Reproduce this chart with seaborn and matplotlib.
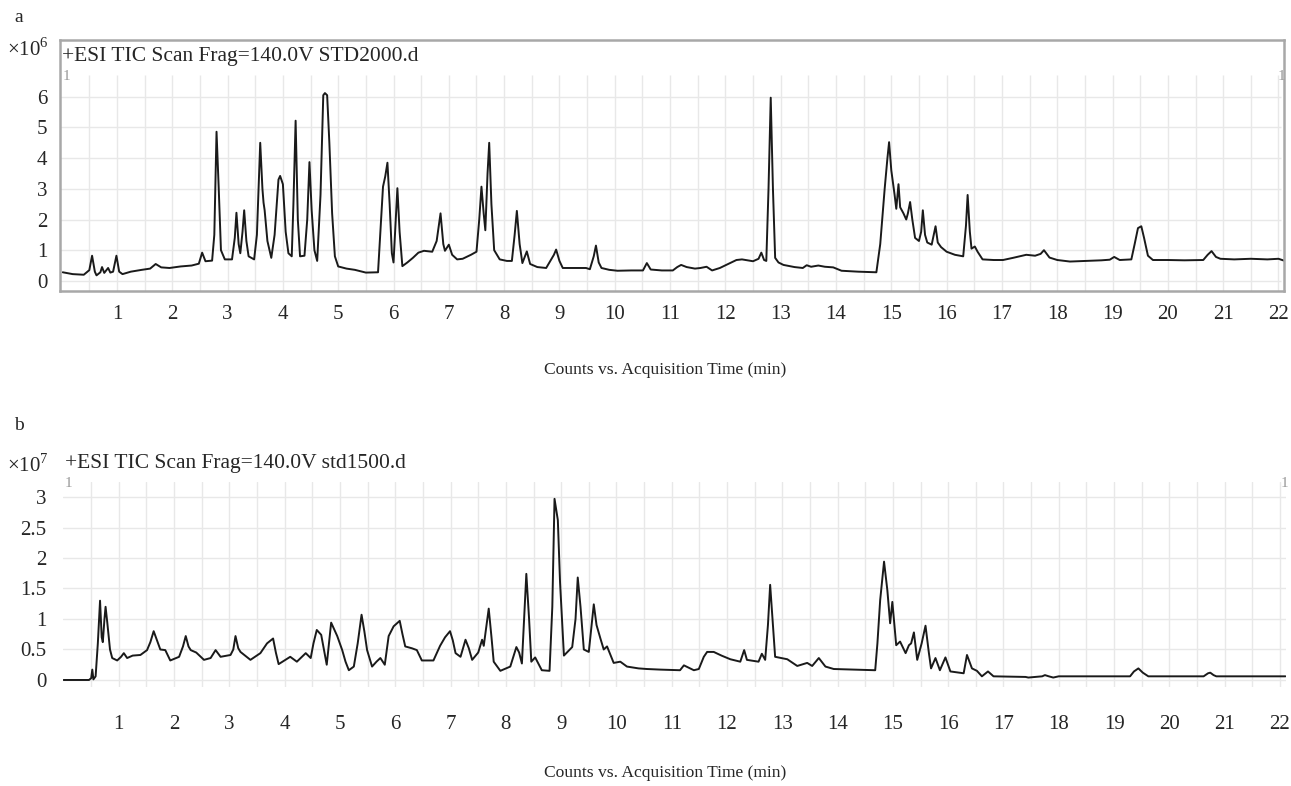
import numpy as np
import matplotlib
matplotlib.use("Agg")
import matplotlib.pyplot as plt
import seaborn as sns
import pandas as pd

# --- panel a: STD2000.d  (time in min, counts x10^6)
time_a = [0.02, 0.20, 0.40, 0.50, 0.55, 0.60, 0.63, 0.70, 0.73, 0.77, 0.84, 0.88, 0.93, 0.99, 1.04,
          1.10, 1.25, 1.45, 1.60, 1.70, 1.80, 1.95, 2.15, 2.35, 2.48, 2.54, 2.60, 2.72, 2.76, 2.80,
          2.84, 2.88, 2.95, 3.08, 3.13, 3.16, 3.20, 3.23, 3.27, 3.30, 3.34, 3.38, 3.48, 3.53, 3.59,
          3.63, 3.65, 3.67, 3.72, 3.79, 3.85, 3.92, 3.95, 4.00, 4.05, 4.10, 4.16, 4.19, 4.23, 4.27,
          4.31, 4.39, 4.44, 4.48, 4.52, 4.57, 4.62, 4.68, 4.73, 4.76, 4.80, 4.84, 4.89, 4.94, 5.00,
          5.15, 5.30, 5.50, 5.72, 5.77, 5.81, 5.85, 5.89, 5.93, 5.97, 6.00, 6.04, 6.07, 6.11, 6.16,
          6.25, 6.35, 6.45, 6.55, 6.70, 6.78, 6.85, 6.90, 6.93, 7.00, 7.06, 7.15, 7.25, 7.40, 7.50,
          7.55, 7.59, 7.63, 7.66, 7.70, 7.73, 7.77, 7.82, 7.92, 8.05, 8.14, 8.19, 8.23, 8.28, 8.33,
          8.41, 8.47, 8.60, 8.76, 8.90, 8.94, 9.00, 9.06, 9.25, 9.48, 9.55, 9.62, 9.66, 9.71, 9.76,
          9.90, 10.05, 10.30, 10.51, 10.58, 10.65, 10.85, 11.05, 11.13, 11.20, 11.30, 11.45, 11.55,
          11.66, 11.76, 11.90, 12.05, 12.20, 12.30, 12.50, 12.60, 12.65, 12.70, 12.74, 12.78, 12.82,
          12.86, 12.90, 12.96, 13.05, 13.25, 13.40, 13.47, 13.55, 13.68, 13.80, 13.95, 14.10, 14.40,
          14.73, 14.80, 14.88, 14.93, 14.96, 15.00, 15.03, 15.06, 15.09, 15.13, 15.16, 15.22, 15.27,
          15.30, 15.34, 15.38, 15.43, 15.50, 15.54, 15.57, 15.61, 15.65, 15.73, 15.80, 15.84, 15.90,
          16.00, 16.15, 16.30, 16.35, 16.38, 16.42, 16.45, 16.51, 16.56, 16.65, 16.85, 17.02, 17.20,
          17.44, 17.60, 17.70, 17.76, 17.86, 18.00, 18.23, 18.50, 18.80, 18.95, 19.03, 19.13, 19.34,
          19.40, 19.46, 19.52, 19.57, 19.64, 19.73, 20.00, 20.30, 20.64, 20.72, 20.79, 20.87, 20.95,
          21.20, 21.50, 21.80, 22.00, 22.10]
counts_a = [0.28, 0.22, 0.20, 0.35, 0.82, 0.30, 0.18, 0.28, 0.45, 0.26, 0.42, 0.27, 0.30, 0.82, 0.30,
            0.22, 0.30, 0.36, 0.40, 0.55, 0.44, 0.42, 0.47, 0.50, 0.56, 0.92, 0.64, 0.66, 1.50, 4.86,
            3.00, 1.00, 0.70, 0.70, 1.40, 2.22, 1.20, 0.90, 1.60, 2.30, 1.30, 0.80, 0.70, 1.50, 4.50,
            3.00, 2.55, 2.30, 1.30, 0.75, 1.50, 3.30, 3.42, 3.15, 1.60, 0.90, 0.80, 2.50, 5.22, 2.00,
            0.80, 0.82, 2.00, 3.87, 2.30, 1.00, 0.65, 2.80, 6.05, 6.12, 6.05, 4.50, 2.20, 0.80, 0.47,
            0.40, 0.36, 0.27, 0.28, 1.80, 3.07, 3.40, 3.85, 2.50, 0.90, 0.60, 2.00, 3.02, 1.60, 0.48,
            0.60, 0.75, 0.92, 0.98, 0.95, 1.30, 2.20, 1.20, 0.98, 1.18, 0.85, 0.70, 0.72, 0.85, 0.95,
            2.00, 3.07, 2.20, 1.65, 3.50, 4.50, 2.50, 1.00, 0.70, 0.65, 0.65, 1.50, 2.28, 1.20, 0.58,
            0.96, 0.55, 0.45, 0.42, 0.85, 1.02, 0.65, 0.42, 0.42, 0.42, 0.38, 0.80, 1.15, 0.60, 0.42,
            0.36, 0.33, 0.34, 0.34, 0.58, 0.37, 0.34, 0.34, 0.45, 0.52, 0.45, 0.40, 0.42,
            0.46, 0.34, 0.42, 0.55, 0.68, 0.70, 0.64, 0.72, 0.92, 0.68, 0.65, 3.00, 5.97,
            3.00, 0.75, 0.60, 0.52, 0.45, 0.42, 0.51, 0.46, 0.50, 0.46, 0.44, 0.33, 0.30,
            0.28, 1.20, 3.00, 4.00, 4.52, 3.60, 3.20, 2.80, 2.35, 3.15, 2.40, 2.20, 2.00,
            2.20, 2.57, 2.00, 1.40, 1.30, 1.60, 2.30, 1.50, 1.25, 1.18, 1.78, 1.25, 1.10,
            0.95, 0.85, 0.80, 1.80, 2.80, 1.60, 1.05, 1.12, 0.95, 0.70, 0.68, 0.68, 0.75,
            0.85, 0.82, 0.88, 1.00, 0.76, 0.68, 0.63, 0.65, 0.67, 0.69, 0.78, 0.68, 0.70,
            1.20, 1.72, 1.78, 1.40, 0.82, 0.68, 0.68, 0.67, 0.68, 0.85, 0.97, 0.78, 0.72,
            0.70, 0.72, 0.70, 0.72, 0.66]

# --- panel b: std1500.d  (time in min, counts x10^7)
time_b = [0.00, 0.46, 0.50, 0.52, 0.54, 0.58, 0.62, 0.66, 0.69, 0.71, 0.74, 0.76, 0.79, 0.84, 0.88,
          0.97, 1.04, 1.09, 1.15, 1.25, 1.39, 1.51, 1.57, 1.63, 1.69, 1.75, 1.84, 1.93, 2.09, 2.16,
          2.21, 2.26, 2.30, 2.40, 2.54, 2.66, 2.75, 2.84, 3.02, 3.07, 3.11, 3.16, 3.20, 3.38, 3.56,
          3.68, 3.79, 3.84, 3.89, 4.10, 4.22, 4.38, 4.47, 4.52, 4.58, 4.66, 4.72, 4.76, 4.80, 4.84,
          4.95, 5.04, 5.10, 5.16, 5.25, 5.32, 5.39, 5.44, 5.49, 5.58, 5.66, 5.73, 5.81, 5.88, 5.97,
          6.08, 6.13, 6.18, 6.30, 6.39, 6.48, 6.69, 6.81, 6.90, 6.99, 7.04, 7.09, 7.18, 7.27, 7.33,
          7.39, 7.50, 7.57, 7.60, 7.65, 7.69, 7.74, 7.78, 7.90, 8.08, 8.19, 8.24, 8.29, 8.33, 8.37,
          8.42, 8.46, 8.53, 8.65, 8.79, 8.84, 8.88, 8.94, 8.98, 9.05, 9.20, 9.26, 9.30, 9.35, 9.41,
          9.50, 9.55, 9.59, 9.64, 9.71, 9.77, 9.83, 9.95, 10.07, 10.19, 10.40, 10.55, 10.80, 11.15,
          11.22, 11.40, 11.49, 11.58, 11.64, 11.76, 11.90, 12.06, 12.24, 12.31, 12.36, 12.57, 12.63,
          12.69, 12.74, 12.78, 12.83, 12.87, 13.09, 13.27, 13.45, 13.54, 13.66, 13.78, 13.93, 14.30,
          14.68, 14.72, 14.77, 14.84, 14.90, 14.95, 14.99, 15.06, 15.13, 15.23, 15.29, 15.33, 15.38,
          15.44, 15.52, 15.59, 15.65, 15.69, 15.77, 15.85, 15.95, 16.04, 16.28, 16.34, 16.43, 16.52,
          16.61, 16.72, 16.82, 17.40, 17.45, 17.70, 17.75, 17.82, 17.90, 18.00, 19.29, 19.36, 19.44,
          19.52, 19.62, 20.10, 20.62, 20.70, 20.74, 20.80, 20.85, 22.10]
counts_b = [0.00, 0.00, 0.03, 0.17, 0.01, 0.06, 0.60, 1.30, 0.70, 0.62, 1.00, 1.20, 0.95, 0.50, 0.36,
            0.32, 0.38, 0.44, 0.36, 0.40, 0.41, 0.49, 0.62, 0.80, 0.65, 0.50, 0.49, 0.32, 0.38, 0.55,
            0.72, 0.55, 0.49, 0.45, 0.33, 0.36, 0.49, 0.38, 0.41, 0.50, 0.72, 0.52, 0.46, 0.33, 0.44,
            0.60, 0.68, 0.45, 0.26, 0.38, 0.30, 0.44, 0.36, 0.60, 0.82, 0.74, 0.45, 0.25, 0.60, 0.94,
            0.72, 0.49, 0.30, 0.16, 0.22, 0.60, 1.07, 0.80, 0.49, 0.22, 0.30, 0.36, 0.25, 0.72, 0.88,
            0.97, 0.75, 0.55, 0.52, 0.49, 0.32, 0.32, 0.56, 0.70, 0.80, 0.65, 0.44, 0.38, 0.66, 0.52,
            0.33, 0.45, 0.66, 0.56, 0.90, 1.17, 0.70, 0.30, 0.15, 0.22, 0.54, 0.45, 0.27, 1.00, 1.74,
            1.00, 0.30, 0.37, 0.16, 0.15, 1.20, 2.97, 2.62, 1.60, 0.40, 0.54, 1.00, 1.68, 1.20, 0.50,
            0.46, 0.90, 1.24, 0.90, 0.68, 0.50, 0.55, 0.28, 0.30, 0.22, 0.19, 0.18, 0.17, 0.16,
            0.24, 0.16, 0.18, 0.38, 0.46, 0.46, 0.40, 0.34, 0.30, 0.49, 0.33, 0.30, 0.43,
            0.33, 0.90, 1.56, 0.90, 0.38, 0.34, 0.23, 0.28, 0.23, 0.36, 0.22, 0.18, 0.17,
            0.16, 0.60, 1.31, 1.94, 1.47, 0.93, 1.28, 0.57, 0.63, 0.44, 0.57, 0.60, 0.78,
            0.33, 0.60, 0.89, 0.45, 0.19, 0.36, 0.16, 0.37, 0.14, 0.11, 0.41, 0.19, 0.15,
            0.06, 0.14, 0.06, 0.05, 0.04, 0.06, 0.08, 0.06, 0.04, 0.06, 0.06, 0.14, 0.19,
            0.12, 0.06, 0.06, 0.06, 0.11, 0.12, 0.08, 0.06, 0.06]

minutes = list(range(1, 23))
ticks_a = [0, 1, 2, 3, 4, 5, 6]
ticks_b = [0, 0.5, 1, 1.5, 2, 2.5, 3]
tick_labels_b = ["0", "0.5", "1", "1.5", "2", "2.5", "3"]

sns.set_theme(style="white")
plt.rcParams["font.family"] = ["Liberation Serif", "DejaVu Serif"]
plt.rcParams["mathtext.fontset"] = "custom"
plt.rcParams["mathtext.rm"] = "Liberation Serif"

W, H = 1291, 786
fig = plt.figure(figsize=(W / 100, H / 100), dpi=100)


def px_axes(x0, y0, x1, y1):
    return fig.add_axes([x0 / W, 1 - y1 / H, (x1 - x0) / W, (y1 - y0) / H])


grid_col = "#e8e8e8"
line_col = "#1a1a1a"
half_min = np.arange(0.5, 22.01, 0.5)

# ---------- panel a
ax_a = px_axes(60, 40, 1284, 291)
df_a = pd.DataFrame({"time": time_a, "counts": counts_a})
ax_a.vlines(half_min, -0.33, 6.71, color=grid_col, lw=1.0, zorder=0)
ax_a.hlines(ticks_a, -0.03, 22.05, color=grid_col, lw=1.0, zorder=0)
sns.lineplot(data=df_a, x="time", y="counts", ax=ax_a, color=line_col, lw=1.4,
             estimator=None, sort=False)
ax_a.set_xlim(-0.03, 22.10)
ax_a.set_ylim(-0.33, 7.85)
ax_a.set_xticks(minutes)
ax_a.set_yticks(ticks_a)
ax_a.set_xlabel("")
ax_a.set_ylabel("")
for s in ax_a.spines.values():
    s.set_color("#a8a8a8")
    s.set_linewidth(1.8)
ax_a.tick_params(axis="x", length=0, pad=10, labelsize=15)
ax_a.tick_params(axis="y", length=0, pad=9, labelsize=15)

# ---------- panel b
ax_b = px_axes(63, 482, 1286, 687)
df_b = pd.DataFrame({"time": time_b, "counts": counts_b})
ax_b.set_xticks(minutes)
ax_b.set_xticks(half_min, minor=True)
ax_b.set_yticks(ticks_b)
ax_b.set_yticklabels(tick_labels_b)
ax_b.grid(True, which="both", color=grid_col, lw=1.0)
ax_b.set_axisbelow(True)
sns.lineplot(data=df_b, x="time", y="counts", ax=ax_b, color=line_col, lw=1.4,
             estimator=None, sort=False)
ax_b.set_xlim(-0.01, 22.11)
ax_b.set_ylim(-0.115, 3.246)
ax_b.set_xlabel("")
ax_b.set_ylabel("")
for s in ax_b.spines.values():
    s.set_visible(False)
ax_b.tick_params(axis="x", which="both", length=0, pad=20, labelsize=15)
ax_b.tick_params(axis="y", length=0, pad=12, labelsize=15)

# ---------- texts
fig.text(14 / W, 1 - 18 / H, "a", fontsize=14, ha="left", va="center")
fig.text(14 / W, 1 - 426 / H, "b", fontsize=14, ha="left", va="center")
fig.text(7 / W, 1 - 50 / H, r"×10$^{6}$", fontsize=15, ha="left", va="center")
fig.text(7 / W, 1 - 465 / H, r"×10$^{7}$", fontsize=15, ha="left", va="center")
fig.text(62 / W, 1 - 57 / H, "+ESI TIC Scan Frag=140.0V STD2000.d", fontsize=15.5,
         ha="left", va="center")
fig.text(65 / W, 1 - 464 / H, "+ESI TIC Scan Frag=140.0V std1500.d", fontsize=15.5,
         ha="left", va="center")
for (x, y) in [(63, 77), (1278, 77), (65, 484), (1281, 484)]:
    fig.text(x / W, 1 - y / H, "1", fontsize=11, color="#9a9a9a", ha="left", va="center")
fig.text(665 / W, 1 - 370 / H, "Counts vs. Acquisition Time (min)", fontsize=12.6,
         ha="center", va="center")
fig.text(665 / W, 1 - 773 / H, "Counts vs. Acquisition Time (min)", fontsize=12.6,
         ha="center", va="center")

fig.savefig("out.png", dpi=100)
